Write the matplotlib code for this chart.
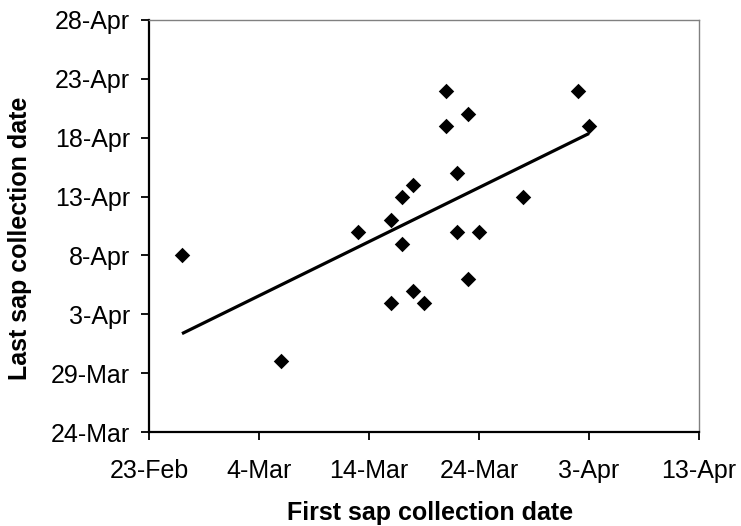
import numpy as np
import pandas as pd
import matplotlib
matplotlib.use("Agg")
import matplotlib.pyplot as plt
import matplotlib.dates as mdates

# fechas (año bisiesto: 23-Feb + 10 dias = 4-Mar)
YEAR = 2008
first_sap = ["02-26", "03-06", "03-13", "03-16", "03-16", "03-17", "03-17",
             "03-18", "03-18", "03-19", "03-21", "03-21", "03-22", "03-22",
             "03-23", "03-23", "03-24", "03-28", "04-02", "04-03"]
last_sap = ["04-08", "03-30", "04-10", "04-11", "04-04", "04-13", "04-09",
            "04-14", "04-05", "04-04", "04-22", "04-19", "04-15", "04-10",
            "04-20", "04-06", "04-10", "04-13", "04-22", "04-19"]

x_ticks = ["02-23", "03-04", "03-14", "03-24", "04-03", "04-13"]
y_ticks = ["03-24", "03-29", "04-03", "04-08", "04-13", "04-18", "04-23", "04-28"]


def to_num(lista):
    return mdates.date2num(pd.to_datetime([f"{YEAR}-{d}" for d in lista]))


def etiqueta(v, pos=None):
    d = mdates.num2date(v)
    return f"{d.day}-{d.strftime('%b')}"


x = to_num(first_sap)
y = to_num(last_sap)
xt = to_num(x_ticks)
yt = to_num(y_ticks)

plt.rcParams["font.family"] = ["Liberation Sans", "DejaVu Sans"]

fig = plt.figure(figsize=(7.41, 5.26), dpi=100)
ax = fig.add_axes([149 / 741, 1 - 432 / 526, 550 / 741, 412 / 526])

ax.scatter(x, y, marker="D", s=62, color="black", zorder=3, linewidths=0)

# linea de tendencia (regresion lineal)
m, b = np.polyfit(x, y, 1)
xs = np.array([x.min(), x.max()])
ax.plot(xs, m * xs + b, color="black", lw=2.3, solid_capstyle="butt")

ax.set_xlim(xt[0], xt[-1])
ax.set_ylim(yt[0], yt[-1])
ax.set_xticks(xt)
ax.set_yticks(yt)
ax.xaxis.set_major_formatter(plt.FuncFormatter(etiqueta))
ax.yaxis.set_major_formatter(plt.FuncFormatter(etiqueta))
ax.tick_params(axis="both", direction="out", length=5.5, width=1.3,
               labelsize=18, colors="black")
ax.tick_params(axis="x", pad=14)
ax.tick_params(axis="y", pad=8)

for lado in ["left", "bottom"]:
    ax.spines[lado].set_linewidth(1.6)
    ax.spines[lado].set_color("black")
for lado in ["top", "right"]:
    ax.spines[lado].set_linewidth(1.0)
    ax.spines[lado].set_color("#808080")

ax.set_xlabel("First sap collection date", fontsize=18, fontweight="bold")
ax.xaxis.set_label_coords(0.511, -0.167)
ax.set_ylabel("Last sap collection date", fontsize=18, fontweight="bold")
ax.yaxis.set_label_coords(-0.2125, 0.47)

fig.savefig("out.png", dpi=100)
